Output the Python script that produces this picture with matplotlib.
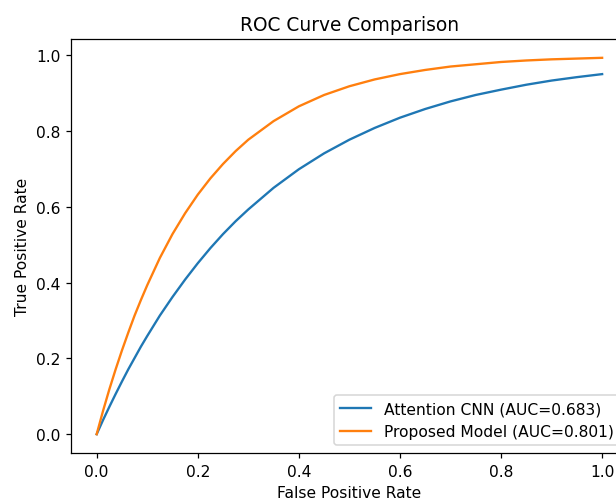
import matplotlib
matplotlib.use("Agg")
import matplotlib.pyplot as plt

# ROC points
fpr = [0.0, 0.0125, 0.025, 0.0375, 0.05, 0.0625, 0.075, 0.0875, 0.1, 0.125,
       0.15, 0.175, 0.2, 0.225, 0.25, 0.275, 0.3, 0.35, 0.4, 0.45, 0.5, 0.55,
       0.6, 0.65, 0.7, 0.75, 0.8, 0.85, 0.9, 0.95, 1.0]
tpr_attention = [0.0, 0.037, 0.072, 0.106, 0.139, 0.171, 0.201, 0.231, 0.259,
                 0.313, 0.362, 0.408, 0.451, 0.491, 0.528, 0.562, 0.593, 0.650,
                 0.699, 0.741, 0.777, 0.808, 0.835, 0.858, 0.878, 0.895, 0.909,
                 0.922, 0.933, 0.942, 0.950]
tpr_proposed = [0.0, 0.061, 0.118, 0.171, 0.221, 0.268, 0.313, 0.354, 0.393,
                0.465, 0.528, 0.583, 0.632, 0.675, 0.713, 0.747, 0.777, 0.826,
                0.865, 0.895, 0.918, 0.936, 0.950, 0.961, 0.970, 0.976, 0.982,
                0.986, 0.989, 0.991, 0.993]
labels = ["Attention CNN (AUC=0.683)", "Proposed Model (AUC=0.801)"]

fig = plt.figure(figsize=(616 / 112, 502 / 112), dpi=112)
ax = fig.add_axes([71.4 / 616, 48 / 502, 556 / 616, 414 / 502])
ax.plot(fpr, tpr_attention, label=labels[0])
ax.plot(fpr, tpr_proposed, label=labels[1])
ax.set_xlabel("False Positive Rate")
ax.set_ylabel("True Positive Rate")
ax.set_title("ROC Curve Comparison")
ax.legend(loc="lower right")
fig.savefig("out.png", dpi=112)
